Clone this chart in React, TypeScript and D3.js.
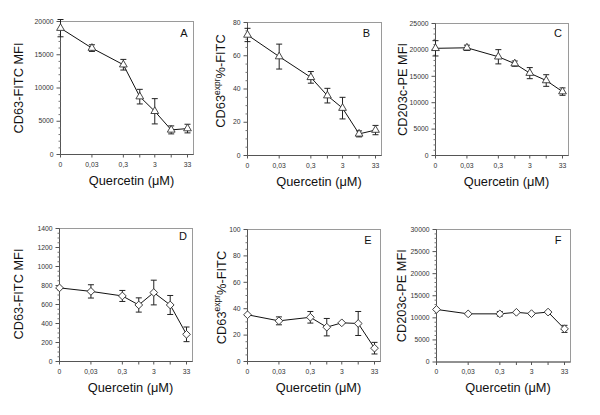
import React from 'react';
import * as d3 from 'd3';

const concentrations = [0, 0.03, 0.3, 1, 3, 10, 33];
const xTickLabels = ['0', '0,03', '0,3', '', '3', '', '33'];

const cd63MfiA = [19000, 16000, 13500, 8700, 6500, 3700, 3900];
const cd63MfiAErr = [1300, 500, 800, 1100, 1900, 600, 650];
const cd63PctB = [72.5, 59.5, 47, 36, 28.5, 13, 15.3];
const cd63PctBErr = [4, 7.5, 3.5, 4.4, 6.5, 1.8, 2.8];
const cd203cC = [20300, 20400, 18700, 17400, 15600, 14200, 12100];
const cd203cCErr = [1450, 500, 1350, 500, 1050, 1100, 700];
const cd63MfiD = [775, 738, 690, 595, 726, 595, 286];
const cd63MfiDErr = [0, 70, 58, 75, 130, 100, 77];
const cd63PctE = [35.4, 30.8, 33.5, 26, 29.3, 28.8, 10.1];
const cd63PctEErr = [0, 3, 4.4, 6.6, 0, 9.1, 4.4];
const cd203cF = [11900, 10900, 10900, 11250, 10950, 11300, 7500];
const cd203cFErr = [0, 0, 500, 0, 0, 0, 800];

type Panel = {
  letter: string;
  values: number[];
  errors: number[];
  yMax: number;
  major: number;
  minor: number;
  title: 'mfi' | 'pct' | 'cd203';
  marker: 'tri' | 'dia';
  x: number; y: number; w: number; h: number;
  titleDx: number; titleDy: number;
  letterDx: number; letterDy: number;
};

const panels: Panel[] = [
  { letter: 'A', values: cd63MfiA, errors: cd63MfiAErr, yMax: 20000, major: 5000, minor: 1000, title: 'mfi', marker: 'tri',
    x: 60.5, y: 21.5, w: 133, h: 133, titleDx: -37.5, titleDy: 0, letterDx: -6, letterDy: 15 },
  { letter: 'B', values: cd63PctB, errors: cd63PctBErr, yMax: 80, major: 20, minor: 5, title: 'pct', marker: 'tri',
    x: 247.5, y: 22.5, w: 134, h: 133, titleDx: -22.5, titleDy: -8, letterDx: -11.5, letterDy: 14.7 },
  { letter: 'C', values: cd203cC, errors: cd203cCErr, yMax: 25000, major: 5000, minor: 1000, title: 'cd203', marker: 'tri',
    x: 435.5, y: 23.5, w: 133, h: 132, titleDx: -29, titleDy: 0, letterDx: -6.5, letterDy: 13.3 },
  { letter: 'D', values: cd63MfiD, errors: cd63MfiDErr, yMax: 1400, major: 200, minor: 50, title: 'mfi', marker: 'dia',
    x: 59.5, y: 228.5, w: 133, h: 133, titleDx: -36.5, titleDy: -1, letterDx: -5.5, letterDy: 11.5 },
  { letter: 'E', values: cd63PctE, errors: cd63PctEErr, yMax: 100, major: 20, minor: 5, title: 'pct', marker: 'dia',
    x: 247.5, y: 229.5, w: 133, h: 132, titleDx: -22, titleDy: 2, letterDx: -9, letterDy: 14 },
  { letter: 'F', values: cd203cF, errors: cd203cFErr, yMax: 30000, major: 5000, minor: 1000, title: 'cd203', marker: 'dia',
    x: 436.5, y: 229.5, w: 134, h: 132.5, titleDx: -31, titleDy: 0, letterDx: -9, letterDy: 14 },
];

const FONT = 'Liberation Sans, Arial, Helvetica, sans-serif';

function PanelView({ p }: { p: Panel }) {
  const xs = d3.scaleLog().domain([0.003, 33]).range([0, p.w - 6]);
  const xPos = (c: number) => xs(c === 0 ? 0.003 : c);
  const ys = d3.scaleLinear().domain([0, p.yMax]).range([p.h, 0]);
  const majorTicks = d3.range(0, p.yMax + p.major / 2, p.major);
  const minorTicks = d3.range(0, p.yMax + p.minor / 2, p.minor).filter(
    (v) => Math.abs(v / p.major - Math.round(v / p.major)) > 1e-6
  );
  const pts = concentrations.map((c, i) => [xPos(c), ys(p.values[i])] as [number, number]);
  const line = d3.line()(pts) || '';
  const tri = d3.symbol().type(d3.symbolTriangle).size(26)() || '';
  const dia = d3.symbol().type(d3.symbolSquare).size(30)() || '';

  let title: React.ReactNode;
  if (p.title === 'mfi') title = 'CD63-FITC MFI';
  else if (p.title === 'cd203') title = 'CD203c-PE MFI';
  else
    title = (
      <>
        CD63
        <tspan fontSize={8.5} dy={-5.5}>expr</tspan>
        <tspan dy={5.5}>%-FITC</tspan>
      </>
    );

  return (
    <g transform={`translate(${p.x},${p.y})`}>
      <rect x={0} y={0} width={p.w} height={p.h} fill="none" stroke="#9a9a9a" strokeWidth={1} />
      <line x1={0} y1={0} x2={0} y2={p.h} stroke="#555" />
      <line x1={0} y1={p.h} x2={p.w} y2={p.h} stroke="#555" />
      {majorTicks.map((v) => (
        <g key={'M' + v}>
          <line x1={-4} x2={0} y1={ys(v)} y2={ys(v)} stroke="#555" />
          <text x={-7} y={ys(v)} dy="0.33em" textAnchor="end" fontSize={6.8} fill="#333" fontFamily={FONT}>
            {v}
          </text>
        </g>
      ))}
      {minorTicks.map((v) => (
        <line key={'m' + v} x1={-2} x2={0} y1={ys(v)} y2={ys(v)} stroke="#777" />
      ))}
      {concentrations.map((c, i) => (
        <g key={'x' + i}>
          <line x1={xPos(c)} x2={xPos(c)} y1={p.h} y2={p.h + 3} stroke="#555" />
          {xTickLabels[i] && (
            <text x={xPos(c)} y={p.h + 12} textAnchor="middle" fontSize={6.8} fill="#333" fontFamily={FONT}>
              {xTickLabels[i]}
            </text>
          )}
        </g>
      ))}
      <path d={line} fill="none" stroke="#111" strokeWidth={1} />
      {concentrations.map((c, i) => {
        const x = xPos(c);
        const y0 = ys(p.values[i] + p.errors[i]);
        const y1 = ys(p.values[i] - p.errors[i]);
        return (
          <g key={'e' + i} stroke="#222" strokeWidth={1}>
            <line x1={x} x2={x} y1={y0} y2={y1} />
            <line x1={x - 3} x2={x + 3} y1={y0} y2={y0} />
            <line x1={x - 3} x2={x + 3} y1={y1} y2={y1} />
          </g>
        );
      })}
      {pts.map(([x, y], i) => (
        <path
          key={'p' + i}
          d={p.marker === 'tri' ? tri : dia}
          transform={`translate(${x},${y}) rotate(${p.marker === 'dia' ? 45 : 0})`}
          fill="#fff"
          stroke="#333"
          strokeWidth={0.9}
        />
      ))}
      <text
        x={p.w + p.letterDx}
        y={p.letterDy}
        textAnchor="end"
        fontSize={11}
        fill="#111"
        fontFamily={FONT}
      >
        {p.letter}
      </text>
      <text
        x={p.w / 2 + 4.5}
        y={p.h + 30}
        textAnchor="middle"
        fontSize={12.8}
        fill="#111"
        fontFamily={FONT}
      >
        Quercetin (μM)
      </text>
      <text
        transform={`translate(${p.titleDx},${p.h / 2 + p.titleDy}) rotate(-90)`}
        textAnchor="middle"
        fontSize={12.8}
        fill="#111"
        fontFamily={FONT}
      >
        {title}
      </text>
    </g>
  );
}

export default function App() {
  return (
    <svg
      width={600}
      height={415}
      style={{ position: 'absolute', left: 0, top: 0, background: '#fff' }}
      viewBox="0 0 600 415"
    >
      <rect width={600} height={415} fill="#fff" />
      {panels.map((p) => (
        <PanelView key={p.letter} p={p} />
      ))}
    </svg>
  );
}
